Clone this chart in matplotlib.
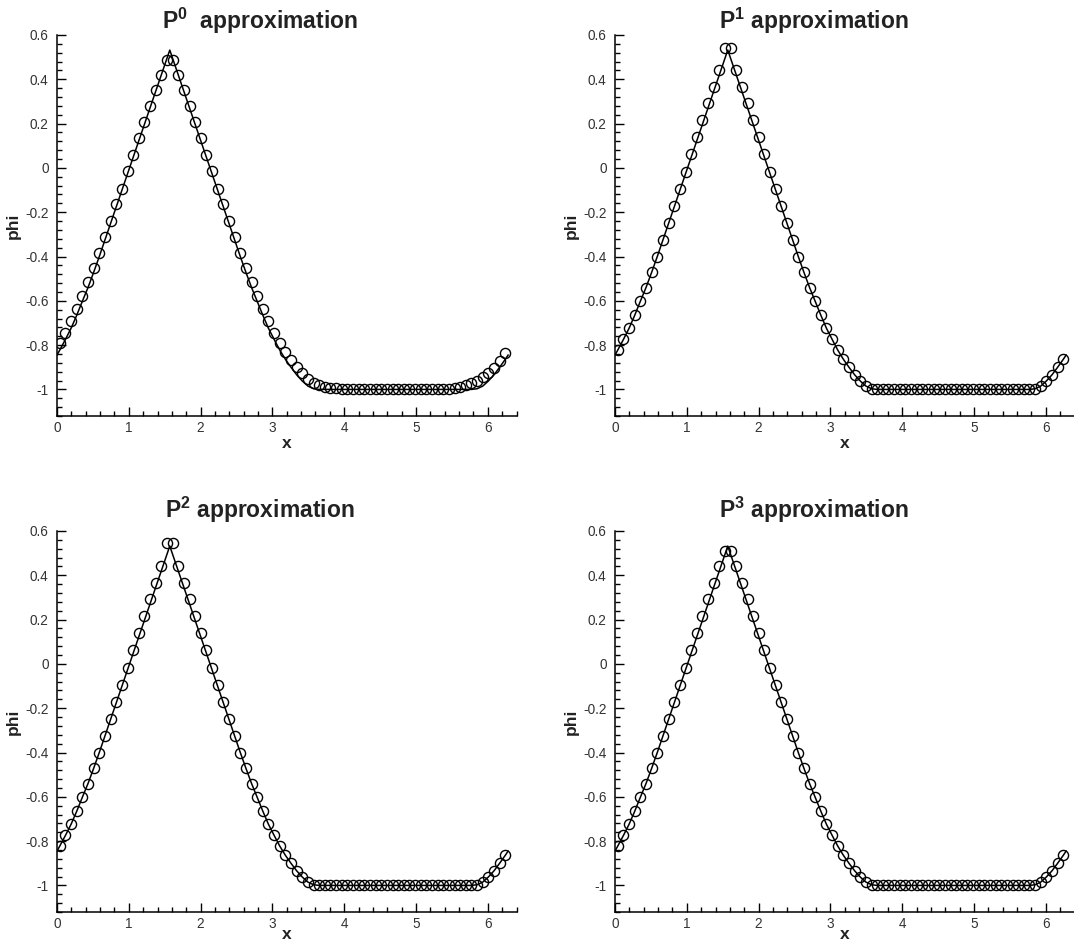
import matplotlib
matplotlib.use("Agg")
import matplotlib.pyplot as plt
from matplotlib.ticker import MultipleLocator, FuncFormatter

plt.rcParams["font.family"] = ["Liberation Sans", "DejaVu Sans"]
plt.rcParams["axes.unicode_minus"] = False
plt.rcParams["mathtext.fontset"] = "custom"
plt.rcParams["mathtext.rm"] = "Liberation Sans"
plt.rcParams["mathtext.bf"] = "Liberation Sans:bold"

# cell centres of the 80-cell mesh on [0, 2pi]
cell_x = [
    0.039, 0.118, 0.196, 0.275, 0.353, 0.432, 0.511, 0.589, 0.668, 0.746,
    0.825, 0.903, 0.982, 1.060, 1.139, 1.217, 1.296, 1.374, 1.453, 1.532,
    1.610, 1.689, 1.767, 1.846, 1.924, 2.003, 2.081, 2.160, 2.238, 2.317,
    2.395, 2.474, 2.553, 2.631, 2.710, 2.788, 2.867, 2.945, 3.024, 3.102,
    3.181, 3.259, 3.338, 3.416, 3.495, 3.574, 3.652, 3.731, 3.809, 3.888,
    3.966, 4.045, 4.123, 4.202, 4.280, 4.359, 4.437, 4.516, 4.595, 4.673,
    4.752, 4.830, 4.909, 4.987, 5.066, 5.144, 5.223, 5.301, 5.380, 5.458,
    5.537, 5.616, 5.694, 5.773, 5.851, 5.930, 6.008, 6.087, 6.165, 6.244,
]

# numerical solutions, one value per cell
phi_p0 = [
    -0.789, -0.744, -0.692, -0.638, -0.578, -0.517, -0.453, -0.385, -0.312, -0.238,
    -0.165, -0.093, -0.016, 0.058, 0.135, 0.207, 0.280, 0.351, 0.420, 0.487,
    0.487, 0.420, 0.351, 0.280, 0.207, 0.135, 0.058, -0.016, -0.093, -0.165,
    -0.238, -0.312, -0.385, -0.453, -0.517, -0.578, -0.638, -0.692, -0.744, -0.789,
    -0.832, -0.868, -0.900, -0.927, -0.953, -0.971, -0.982, -0.989, -0.993, -0.995,
    -0.997, -0.998, -0.998, -0.998, -0.998, -0.998, -0.998, -0.998, -0.998, -0.998,
    -0.998, -0.998, -0.998, -0.998, -0.998, -0.998, -0.998, -0.998, -0.998, -0.997,
    -0.994, -0.989, -0.982, -0.973, -0.961, -0.946, -0.927, -0.902, -0.870, -0.834,
]
phi_p1 = [
    -0.822, -0.774, -0.724, -0.665, -0.602, -0.540, -0.471, -0.400, -0.326, -0.250,
    -0.173, -0.097, -0.018, 0.062, 0.139, 0.217, 0.293, 0.365, 0.440, 0.541,
    0.541, 0.440, 0.365, 0.293, 0.217, 0.139, 0.062, -0.018, -0.097, -0.173,
    -0.250, -0.326, -0.400, -0.471, -0.540, -0.602, -0.665, -0.724, -0.774, -0.822,
    -0.864, -0.900, -0.934, -0.962, -0.985, -0.997, -1.000, -1.000, -1.000, -1.000,
    -1.000, -1.000, -1.000, -1.000, -1.000, -1.000, -1.000, -1.000, -1.000, -1.000,
    -1.000, -1.000, -1.000, -1.000, -1.000, -1.000, -1.000, -1.000, -1.000, -1.000,
    -1.000, -1.000, -1.000, -1.000, -0.997, -0.985, -0.962, -0.934, -0.900, -0.864,
]
phi_p2 = [
    -0.822, -0.774, -0.724, -0.665, -0.602, -0.540, -0.471, -0.400, -0.326, -0.250,
    -0.173, -0.097, -0.018, 0.062, 0.139, 0.217, 0.293, 0.365, 0.440, 0.546,
    0.546, 0.440, 0.365, 0.293, 0.217, 0.139, 0.062, -0.018, -0.097, -0.173,
    -0.250, -0.326, -0.400, -0.471, -0.540, -0.602, -0.665, -0.724, -0.774, -0.822,
    -0.864, -0.900, -0.934, -0.962, -0.985, -0.997, -1.000, -1.000, -1.000, -1.000,
    -1.000, -1.000, -1.000, -1.000, -1.000, -1.000, -1.000, -1.000, -1.000, -1.000,
    -1.000, -1.000, -1.000, -1.000, -1.000, -1.000, -1.000, -1.000, -1.000, -1.000,
    -1.000, -1.000, -1.000, -1.000, -0.997, -0.985, -0.962, -0.934, -0.900, -0.864,
]
phi_p3 = [
    -0.822, -0.774, -0.724, -0.665, -0.602, -0.540, -0.471, -0.400, -0.326, -0.250,
    -0.173, -0.097, -0.018, 0.062, 0.139, 0.217, 0.293, 0.365, 0.440, 0.509,
    0.509, 0.440, 0.365, 0.293, 0.217, 0.139, 0.062, -0.018, -0.097, -0.173,
    -0.250, -0.326, -0.400, -0.471, -0.540, -0.602, -0.665, -0.724, -0.774, -0.822,
    -0.864, -0.900, -0.934, -0.962, -0.985, -0.997, -1.000, -1.000, -1.000, -1.000,
    -1.000, -1.000, -1.000, -1.000, -1.000, -1.000, -1.000, -1.000, -1.000, -1.000,
    -1.000, -1.000, -1.000, -1.000, -1.000, -1.000, -1.000, -1.000, -1.000, -1.000,
    -1.000, -1.000, -1.000, -1.000, -0.997, -0.985, -0.962, -0.934, -0.900, -0.864,
]

# exact solution (solid line)
exact_x = [
    0.0, 0.039, 0.118, 0.196, 0.275, 0.353, 0.432, 0.511, 0.589, 1.5708,
    2.553, 2.631, 2.710, 2.788, 2.867, 2.945, 3.024, 3.102, 3.181, 3.259,
    3.338, 3.416, 3.495, 3.574, 3.652, 5.773, 5.851, 5.930, 6.008, 6.087,
    6.165, 6.244, 6.2832,
]
exact_phi = [
    -0.845, -0.822, -0.774, -0.724, -0.665, -0.602, -0.540, -0.471, -0.400, 0.532,
    -0.400, -0.471, -0.540, -0.602, -0.665, -0.724, -0.774, -0.822, -0.864, -0.900,
    -0.934, -0.962, -0.985, -0.997, -1.000, -1.000, -0.997, -0.985, -0.962, -0.934,
    -0.900, -0.864, -0.845,
]

titles = [r"$\mathbf{P^{0}}$  approximation", r"$\mathbf{P^{1}}$ approximation",
          r"$\mathbf{P^{2}}$ approximation", r"$\mathbf{P^{3}}$ approximation"]
solutions = [phi_p0, phi_p1, phi_p2, phi_p3]

W, H = 1074, 944
fig = plt.figure(figsize=(W / 100, H / 100), dpi=100)

# axes boxes in pixels: left, top, width, height
boxes = [(57, 35, 459.5, 381), (615, 35, 459.5, 381),
         (57, 531, 459.5, 381), (615, 531, 459.5, 381)]
title_xy = [(260, 21), (814, 21), (260, 510), (814, 510)]
xlabel_pads = [0.5, 0.5, -2.5, -2.5]

fmt = FuncFormatter(lambda v, pos: "{:g}".format(round(v, 2)))

for box, ttl, txy, phi, xpad in zip(boxes, titles, title_xy, solutions, xlabel_pads):
    l, t, w, h = box
    ax = fig.add_axes([l / W, 1 - (t + h) / H, w / W, h / H])
    ax.plot(exact_x, exact_phi, color="black", lw=1.1)
    ax.plot(cell_x, phi, "o", mfc="none", mec="black", ms=7.3, mew=1.0)

    ax.set_xlim(0, 6.4)
    ax.set_ylim(-1.12, 0.6)
    ax.xaxis.set_major_locator(MultipleLocator(1))
    ax.xaxis.set_minor_locator(MultipleLocator(0.2))
    ax.yaxis.set_major_locator(MultipleLocator(0.2))
    ax.yaxis.set_minor_locator(MultipleLocator(0.04))
    ax.xaxis.set_major_formatter(fmt)
    ax.yaxis.set_major_formatter(fmt)

    for s in ("top", "right"):
        ax.spines[s].set_visible(False)
    for s in ("left", "bottom"):
        ax.spines[s].set_linewidth(1.1)

    ax.tick_params(which="both", direction="in", width=1.0, colors="black",
                   labelcolor="#333333", labelsize=9.8)
    ax.tick_params(which="major", length=6.5)
    ax.tick_params(which="minor", length=3.8)
    ax.tick_params(axis="x", pad=3.5)
    ax.tick_params(axis="y", pad=6)

    ax.set_xlabel("x", fontsize=12.5, fontweight="bold", color="#222222", labelpad=xpad)
    ax.set_ylabel("phi", fontsize=12.5, fontweight="bold", color="#222222", labelpad=3)

    fig.text(txy[0] / W, 1 - txy[1] / H, ttl, ha="center", va="center",
             fontsize=16.5, fontweight="bold", color="#222222")

fig.savefig("out.png", dpi=100)
